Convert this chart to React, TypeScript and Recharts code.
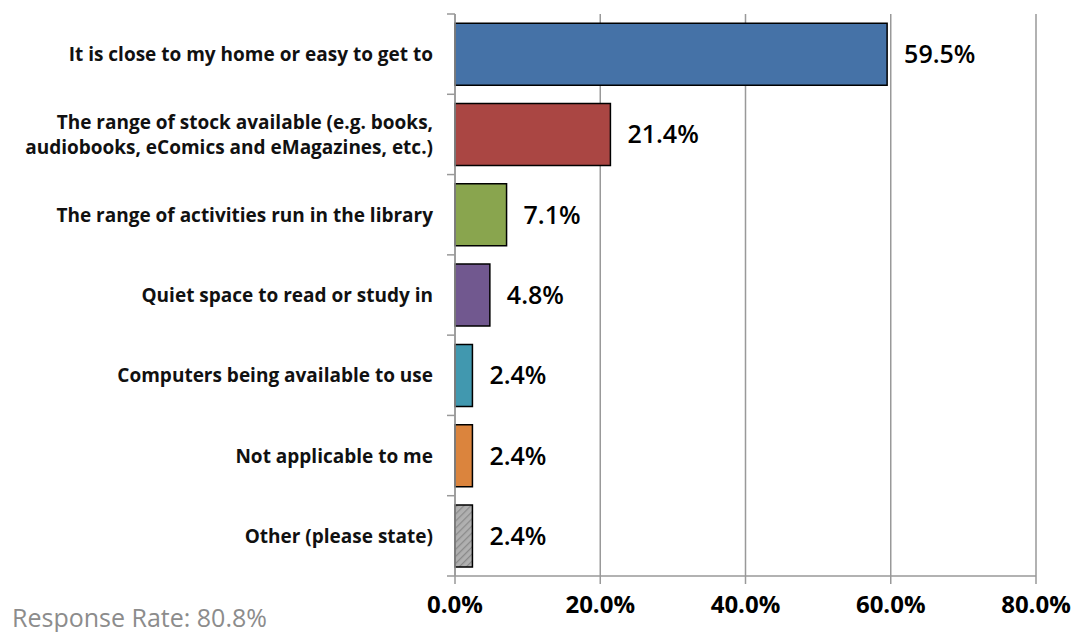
import React from 'react';
import { Bar, BarChart, CartesianGrid, Cell, LabelList, XAxis, YAxis } from 'recharts';

const categories = [
  'It is close to my home or easy to get to',
  'The range of stock available (e.g. books,|audiobooks, eComics and eMagazines, etc.)',
  'The range of activities run in the library',
  'Quiet space to read or study in',
  'Computers being available to use',
  'Not applicable to me',
  'Other (please state)',
];
const values = [59.5, 21.4, 7.1, 4.8, 2.4, 2.4, 2.4];
const colors = ['#4572A7', '#AA4643', '#89A54E', '#71588F', '#4198AF', '#DB843D', 'url(#hatch)'];
const xTicks = [0, 20, 40, 60, 80];

const data = categories.map((name, i) => ({ name, value: values[i] }));

const WIDTH = 1075;
const HEIGHT = 632;
const X_AXIS_H = 56;
const MARGIN = { top: 14, right: 39, bottom: 0, left: 0 };
const BAND = (HEIGHT - MARGIN.top - X_AXIS_H) / categories.length;

const CategoryTick = (props: any) => {
  const { x, y, payload, index } = props;
  const lines: string[] = String(payload.value).split('|');
  const lh = 25;
  const start = y - ((lines.length - 1) * lh) / 2;
  const axisX = x + 8;
  return (
    <g>
      <line x1={axisX - 8} x2={axisX} y1={y - BAND / 2} y2={y - BAND / 2} stroke="#999" strokeWidth={1.5} />
      {index === categories.length - 1 && (
        <line x1={axisX - 8} x2={axisX} y1={y + BAND / 2} y2={y + BAND / 2} stroke="#999" strokeWidth={1.5} />
      )}
      <text x={axisX - 22} y={start} textAnchor="end" dominantBaseline="central" fontSize={19} fontWeight="bold" fill="#111">
        {lines.map((l, i) => (
          <tspan key={i} x={axisX - 22} y={start + i * lh}>
            {l}
          </tspan>
        ))}
      </text>
    </g>
  );
};

export default function App() {
  return (
    <div style={{ position: 'absolute', left: 0, top: 0, width: WIDTH, height: HEIGHT, background: '#fff', fontFamily: '"Open Sans", sans-serif' }}>
      <BarChart width={WIDTH} height={HEIGHT} data={data} layout="vertical" margin={MARGIN} barCategoryGap="11.5%">
        <defs>
          <pattern id="hatch" width="5" height="5" patternUnits="userSpaceOnUse" patternTransform="rotate(45)">
            <rect width="5" height="5" fill="#b0b0b0" />
            <line x1="0" y1="0" x2="0" y2="5" stroke="#8a8a8a" strokeWidth="2.5" />
          </pattern>
        </defs>
        <CartesianGrid horizontal={false} stroke="#999" strokeWidth={1.5} />
        <XAxis
          type="number"
          domain={[0, 80]}
          ticks={xTicks}
          height={X_AXIS_H}
          tickFormatter={(v: number) => `${v.toFixed(1)}%`}
          stroke="#999"
          strokeWidth={1.5}
          tickSize={8}
          tickMargin={12}
          tick={{ fill: '#000', fontSize: 24, fontWeight: 'bold' }}
        />
        <YAxis
          type="category"
          dataKey="name"
          width={455}
          stroke="#999"
          strokeWidth={1.5}
          tickLine={false}
          interval={0}
          tick={<CategoryTick />}
        />
        <Bar dataKey="value" stroke="#000" strokeWidth={1.5} isAnimationActive={false}>
          {data.map((d, i) => (
            <Cell key={d.name} fill={colors[i]} />
          ))}
          <LabelList
            dataKey="value"
            position="right"
            offset={17}
            formatter={(v: any) => `${v}%`}
            style={{ fill: '#000', fontSize: 25, fontWeight: 600 }}
          />
        </Bar>
      </BarChart>
      <div style={{ position: 'absolute', left: 12, top: 602, fontSize: 25, color: '#8c8c8c', lineHeight: '30px' }}>
        Response Rate: 80.8%
      </div>
    </div>
  );
}
